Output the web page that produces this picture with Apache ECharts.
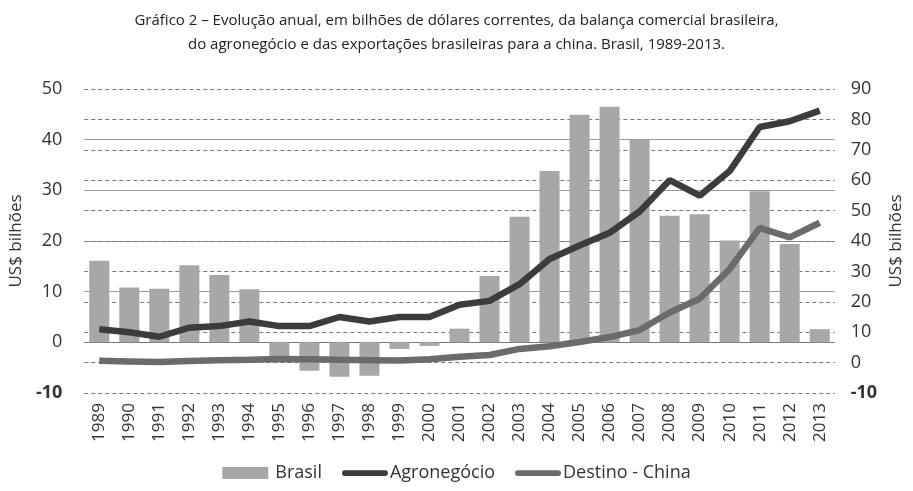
<!DOCTYPE html>
<html>
<head>
<meta charset="utf-8">
<script src="https://cdn.jsdelivr.net/npm/echarts@6/dist/echarts.min.js"></script>
<style>
  html, body { margin: 0; padding: 0; background: #fff; }
  #chart { width: 913px; height: 491px; }
</style>
</head>
<body>
<div id="chart"></div>
<script>
var anos = ['1989','1990','1991','1992','1993','1994','1995','1996','1997','1998','1999','2000','2001',
            '2002','2003','2004','2005','2006','2007','2008','2009','2010','2011','2012','2013'];
var brasil = [16.1, 10.8, 10.6, 15.2, 13.3, 10.5, -3.5, -5.6, -6.8, -6.6, -1.3, -0.7, 2.7,
              13.1, 24.8, 33.8, 44.9, 46.5, 40.0, 25.0, 25.3, 20.1, 29.8, 19.4, 2.6];
var agronegocio = [11, 10, 8.5, 11.5, 12, 13.5, 12, 12, 15, 13.5, 15, 15, 19,
                   20.3, 25.8, 34.1, 38.5, 42.7, 49.7, 60, 54.9, 63, 77.5, 79.4, 82.9];
var china = [0.6, 0.4, 0.2, 0.5, 0.8, 0.9, 1.2, 1.1, 0.9, 0.8, 0.7, 1.1, 1.9,
             2.5, 4.5, 5.4, 6.8, 8.4, 10.7, 16.5, 21, 30.8, 44.3, 41.2, 46];

var myChart = echarts.init(document.getElementById('chart'));
var fonte = '"Open Sans", sans-serif';
// traço grosso com pontas arredondadas para a legenda das linhas
var tracoLegenda = 'path://M3,0 H45 A3,3 0 0 1 45,6 H3 A3,3 0 0 1 3,0 Z';

function rotulo(v) {
    return v === -10 ? '{b|-10}' : String(v);
}

var option = {
    animation: false,
    title: {
        text: 'Gráfico 2 – Evolução anual, em bilhões de dólares correntes, da balança comercial brasileira,\ndo agronegócio e das exportações brasileiras para a china. Brasil, 1989-2013.',
        left: 'center',
        top: 4,
        textStyle: { fontFamily: fonte, fontSize: 15, fontWeight: 'normal', color: '#222', lineHeight: 24 }
    },
    legend: {
        bottom: 4,
        left: 'center',
        itemGap: 20,
        itemWidth: 46,
        itemHeight: 12,
        textStyle: { fontFamily: fonte, fontSize: 18, color: '#333', padding: [0, 0, 0, -3] },
        data: [
            { name: 'Brasil', icon: 'rect', textStyle: { padding: [0, 0, 0, 2] } },
            { name: 'Agronegócio', icon: tracoLegenda },
            { name: 'Destino - China', icon: tracoLegenda }
        ]
    },
    grid: { left: 83, right: 76, top: 89, bottom: 98 },
    xAxis: {
        type: 'category',
        data: anos,
        axisTick: { show: false },
        axisLine: { show: false },
        axisLabel: { rotate: 90, interval: 0, margin: 10, fontFamily: fonte, fontSize: 17, color: '#333' }
    },
    yAxis: [
        {
            type: 'value',
            min: -10, max: 50, interval: 10,
            name: 'US$ bilhões',
            nameLocation: 'middle',
            nameGap: 46,
            nameTextStyle: { fontFamily: fonte, fontSize: 17, color: '#333' },
            axisLine: { show: false },
            axisTick: { show: false },
            axisLabel: {
                fontFamily: fonte, fontSize: 18, color: '#333', margin: 22,
                formatter: rotulo,
                rich: { b: { fontFamily: fonte, fontSize: 18, fontWeight: 'bold', color: '#333' } }
            },
            splitLine: {
                lineStyle: {
                    color: ['transparent', '#777', '#999', '#999', '#999', '#999', 'transparent'],
                    width: 1.2
                }
            }
        },
        {
            type: 'value',
            min: -10, max: 90, interval: 10,
            name: 'US$ bilhões',
            nameLocation: 'middle',
            nameGap: 50,
            nameRotate: 90,
            nameTextStyle: { fontFamily: fonte, fontSize: 17, color: '#333' },
            axisLine: { show: false },
            axisTick: { show: false },
            axisLabel: {
                fontFamily: fonte, fontSize: 18, color: '#333', margin: 16,
                formatter: rotulo,
                rich: { b: { fontFamily: fonte, fontSize: 18, fontWeight: 'bold', color: '#333' } }
            },
            splitLine: { show: true, lineStyle: { color: '#777', type: [4, 3], width: 1 } }
        }
    ],
    series: [
        {
            name: 'Brasil',
            type: 'bar',
            yAxisIndex: 0,
            barWidth: 20,
            itemStyle: { color: '#a7a7a9' },
            data: brasil
        },
        {
            name: 'Agronegócio',
            type: 'line',
            yAxisIndex: 1,
            symbol: 'none',
            lineStyle: { color: '#3c3c3e', width: 6.5 },
            itemStyle: { color: '#3c3c3e' },
            data: agronegocio
        },
        {
            name: 'Destino - China',
            type: 'line',
            yAxisIndex: 1,
            symbol: 'none',
            lineStyle: { color: '#6b6b6d', width: 6.5 },
            itemStyle: { color: '#6b6b6d' },
            data: china
        }
    ]
};

myChart.setOption(option);
</script>
</body>
</html>
